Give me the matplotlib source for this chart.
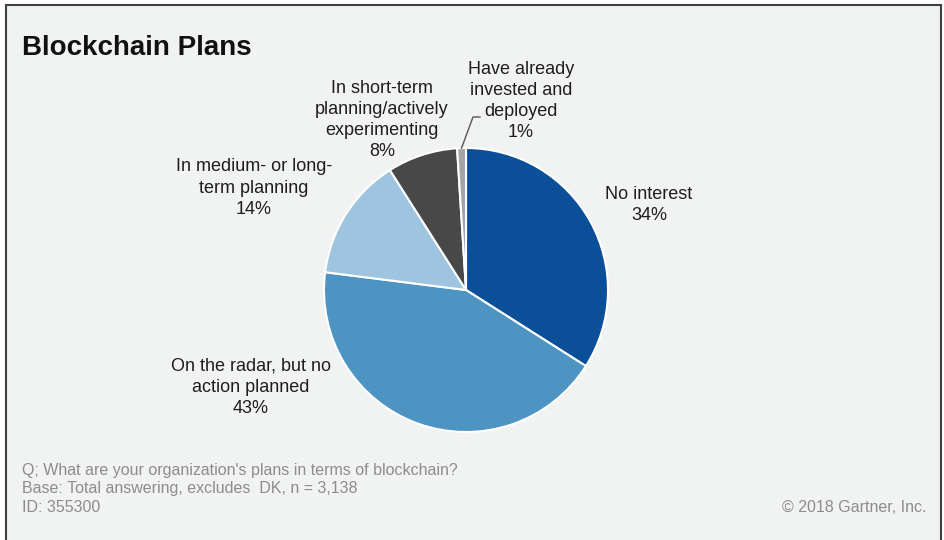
import numpy as np
import matplotlib.pyplot as plt
from matplotlib.patches import Rectangle

plt.rcParams['font.family'] = ['Liberation Sans', 'DejaVu Sans']

# data
labels = ['No interest', 'On the radar, but no\naction planned', 'In medium- or long-\nterm planning',
          'In short-term\nplanning/actively\nexperimenting', 'Have already\ninvested and\ndeployed']
values = [34, 43, 14, 8, 1]
colors = ['#0a4f98', '#4d94c2', '#9ec4e0', '#484848', '#a5a5a5']
# label centres in pixels (x, y from top)
label_pos = [(649, 205), (251, 387), (254, 188), (382, 120), (521, 101)]

W, H = 944, 540
fig = plt.figure(figsize=(W / 100, H / 100), dpi=100)
fig.patch.set_facecolor('white')

# background panel with border (left, top, right)
fig.patches.append(Rectangle((6 / W, -0.01), (941 - 6) / W, (H - 5) / H + 0.01, transform=fig.transFigure,
                             facecolor='#f1f2f2', edgecolor='#404040', linewidth=1.5, zorder=-5))

cx, cy, r = 466, 290, 142
ax = fig.add_axes([(cx - r) / W, (H - cy - r) / H, 2 * r / W, 2 * r / H])
ax.set_zorder(2)
wedges, _ = ax.pie(values, colors=colors, startangle=90, counterclock=False,
                   wedgeprops=dict(edgecolor='white', linewidth=1.5))
ax.set_xlim(-1, 1)
ax.set_ylim(-1, 1)
ax.set_aspect('equal')
ax.axis('off')


def px2d(px, py):
    return (px - cx) / r, (cy - py) / r


for i, (lab, v) in enumerate(zip(labels, values)):
    x, y = px2d(*label_pos[i])
    ax.text(x, y, f'{lab}\n{v}%', ha='center', va='center', fontsize=13,
            color='#1e1e1e', linespacing=1.32, clip_on=False)

# leader line for the smallest slice
w = wedges[-1]
ang = np.deg2rad((w.theta1 + w.theta2) / 2)
x0, y0 = np.cos(ang), np.sin(ang)
x1, y1 = px2d(473, 117)
x2, y2 = px2d(480, 117)
ax.plot([x0, x1, x2], [y0, y1, y2], color='#555555', lw=1, clip_on=False)

fig.text(22 / W, 1 - 48 / H, 'Blockchain Plans', fontsize=20, fontweight='bold',
         color='#111111', va='center', ha='left')

foot = ["Q; What are your organization's plans in terms of blockchain?",
        'Base: Total answering, excludes  DK, n = 3,138',
        'ID: 355300']
for k, t in enumerate(foot):
    fig.text(22 / W, 1 - (470 + k * 19) / H, t, fontsize=11.5, color='#8c8c8c', va='center', ha='left')
fig.text(927 / W, 1 - 508 / H, '\u00a9 2018 Gartner, Inc.', fontsize=11.5, color='#8c8c8c',
         va='center', ha='right')

fig.savefig('out.png', dpi=100, facecolor=fig.get_facecolor())
